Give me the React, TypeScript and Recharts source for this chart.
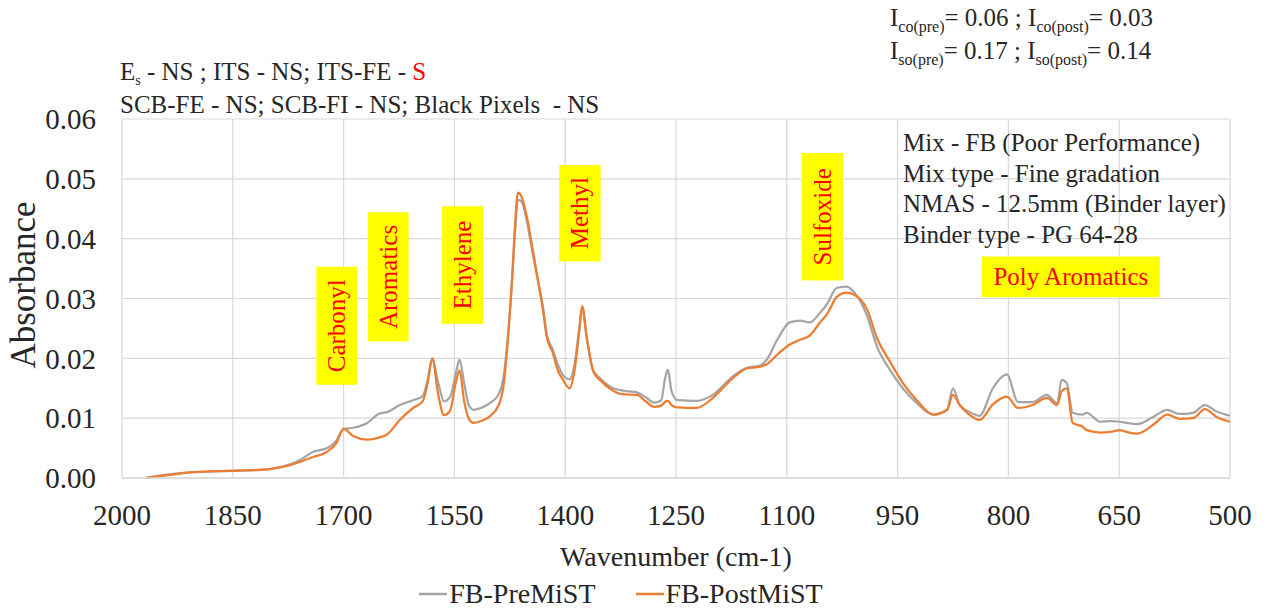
import { LineChart, Line, XAxis, YAxis, CartesianGrid, Legend, ReferenceArea, Label } from "recharts"

const serif = '"Liberation Serif", "Times New Roman", serif'

// wavenumber (cm-1), high to low
const wavenumber = [
  1968, 1950, 1930, 1912, 1880, 1854, 1823, 1800, 1777, 1759, 1741, 1722, 1710, 1700, 1687, 1668,
  1651, 1641, 1624, 1606, 1593, 1586, 1580, 1572, 1564, 1556, 1548, 1543, 1537, 1530, 1524, 1512,
  1502, 1490, 1484, 1478, 1472, 1468, 1464, 1459, 1452, 1444, 1437, 1430, 1425, 1417, 1410, 1403,
  1394, 1388, 1381, 1377, 1371, 1362, 1353, 1335, 1322, 1303, 1290, 1280, 1270, 1265, 1261, 1256,
  1248, 1222, 1200, 1173, 1154, 1136, 1127, 1113, 1096, 1082, 1069, 1055, 1046, 1032, 1019, 1010,
  991, 978, 960, 943, 924, 902, 883, 875, 866, 855, 839, 821, 802, 787, 767, 748,
  734, 728, 721, 713, 700, 694, 676, 662, 649, 640, 626, 604, 585, 568, 550, 534,
  518, 500,
]

const preMiST = [
  0.0, 0.0004, 0.0007, 0.0009, 0.0011, 0.0012, 0.0013, 0.0015, 0.0021, 0.003, 0.0044, 0.005, 0.0062, 0.0082, 0.0084, 0.0092,
  0.0108, 0.011, 0.0122, 0.013, 0.0137, 0.0165, 0.02, 0.016, 0.0128, 0.0135, 0.0175, 0.0198, 0.016, 0.012, 0.0114, 0.0118,
  0.0125, 0.014, 0.0165, 0.023, 0.033, 0.041, 0.0465, 0.0462, 0.043, 0.0375, 0.033, 0.0285, 0.024, 0.0215, 0.019, 0.0172,
  0.0165, 0.0185, 0.025, 0.0287, 0.0236, 0.018, 0.0167, 0.015, 0.0146, 0.0143, 0.0134, 0.0126, 0.013, 0.0165, 0.0181, 0.0145,
  0.013, 0.0129, 0.0139, 0.017, 0.0184, 0.0188, 0.0198, 0.0231, 0.026, 0.0263, 0.026, 0.0276, 0.029, 0.0318, 0.032, 0.0312,
  0.027, 0.022, 0.018, 0.015, 0.0125, 0.0106, 0.0114, 0.015, 0.0122, 0.0112, 0.0104, 0.015, 0.0173, 0.0127, 0.0127, 0.0139,
  0.0125, 0.0164, 0.0159, 0.0109, 0.0106, 0.0109, 0.0094, 0.0095, 0.0094, 0.0092, 0.009, 0.0102, 0.0114, 0.0107, 0.0109, 0.0122,
  0.0111, 0.0104,
]

const postMiST = [
  0.0, 0.0003, 0.0006, 0.0009, 0.0011, 0.0012, 0.0013, 0.0015, 0.002, 0.0027, 0.0035, 0.0044, 0.0058, 0.0082, 0.007, 0.0064,
  0.0068, 0.0073, 0.0097, 0.0117, 0.0128, 0.016, 0.02, 0.014, 0.0105, 0.0112, 0.016, 0.018, 0.013, 0.0098, 0.0092, 0.0096,
  0.0103, 0.0122, 0.015, 0.0225, 0.033, 0.042, 0.0477, 0.047, 0.0437, 0.0382, 0.0332, 0.028, 0.0236, 0.021, 0.018, 0.0164,
  0.015, 0.0175, 0.0245, 0.0287, 0.0236, 0.0178, 0.0164, 0.0146, 0.014, 0.0139, 0.0127, 0.0119, 0.0121, 0.0127, 0.0129, 0.0122,
  0.0118, 0.0117, 0.0134, 0.0167, 0.0183, 0.0186, 0.019, 0.0206, 0.0223, 0.0231, 0.0238, 0.026, 0.0273, 0.0303, 0.031, 0.0307,
  0.0281, 0.0234, 0.0194, 0.0159, 0.013, 0.0106, 0.0114, 0.0139, 0.0122, 0.0108, 0.0097, 0.0123, 0.0136, 0.0117, 0.0122, 0.0134,
  0.0122, 0.0145, 0.015, 0.0092, 0.0086, 0.008, 0.0076, 0.0077, 0.008, 0.0077, 0.0074, 0.0089, 0.0106, 0.0099, 0.01, 0.0115,
  0.0102, 0.0094,
]

const seriesNames = ["FB-PreMiST", "FB-PostMiST"]
const xTicks = [2000, 1850, 1700, 1550, 1400, 1250, 1100, 950, 800, 650, 500]
const yTicks = [0, 0.01, 0.02, 0.03, 0.04, 0.05, 0.06]

// functional group bands marked on the spectrum
const bandNames = ["Carbonyl", "Aromatics", "Ethylene", "Methyl", "Sulfoxide", "Poly Aromatics"]
const bandFrom = [1737, 1667, 1567, 1408, 1080, 836]
const bandTo = [1682, 1612, 1511, 1352, 1024, 595]
const bandLow = [0.0156, 0.0228, 0.0258, 0.0362, 0.033, 0.0302]
const bandHigh = [0.0353, 0.0444, 0.0454, 0.0523, 0.0543, 0.037]

const rows = wavenumber.map((w, i) => ({ w, pre: preMiST[i], post: postMiST[i] }))

const bandLabel = (text: string) => (props: any) => {
  const { x, y, width, height } = props.viewBox
  const cx = x + width / 2
  const cy = y + height / 2
  const vertical = height > width
  return (
    <text
      x={cx}
      y={cy}
      transform={vertical ? `rotate(-90 ${cx} ${cy})` : undefined}
      textAnchor="middle"
      dominantBaseline="central"
      fill="#ff0000"
      fontSize={25}
      fontFamily={serif}
    >
      {text}
    </text>
  )
}

const renderLegend = (props: any) => {
  const items = seriesNames
    .map((n) => props.payload.find((e: any) => e.value === n))
    .filter(Boolean)
  return (
    <div
      style={{
        display: "flex",
        justifyContent: "center",
        alignItems: "center",
        gap: 40,
        height: 40,
        fontFamily: serif,
        fontSize: 28,
        color: "#262626",
      }}
    >
      {items.map((e: any) => (
        <span key={e.value} style={{ display: "flex", alignItems: "center" }}>
          <svg width={28} height={4}>
            <line x1={0} y1={2} x2={28} y2={2} stroke={e.color} strokeWidth={2.5} />
          </svg>
          <span style={{ marginLeft: 2 }}>{e.value}</span>
        </span>
      ))}
    </div>
  )
}

const sub = { fontSize: 16, position: "relative" as const, top: 6 }

export default function App() {
  return (
    <div
      style={{
        position: "absolute",
        left: 0,
        top: 0,
        width: 1272,
        height: 609,
        background: "#fff",
        fontFamily: serif,
      }}
    >
      <LineChart width={1272} height={609} data={rows} margin={{ top: 119, right: 42, bottom: 0, left: 12 }}>
        <CartesianGrid stroke="#d9d9d9" strokeWidth={1.2} />
        <XAxis
          dataKey="w"
          type="number"
          domain={[500, 2000]}
          reversed
          ticks={xTicks}
          interval={0}
          height={91}
          tickLine={false}
          tickSize={0}
          tickMargin={26}
          axisLine={{ stroke: "#d9d9d9", strokeWidth: 1.5 }}
          tick={{ fontSize: 29, fill: "#262626", fontFamily: serif }}
        >
          <Label
            value="Wavenumber (cm-1)"
            position="insideBottom"
            offset={3}
            style={{ fontSize: 28, fill: "#262626", fontFamily: serif }}
          />
        </XAxis>
        <YAxis
          domain={[0, 0.06]}
          ticks={yTicks}
          width={110}
          tickFormatter={(v: number) => v.toFixed(2)}
          axisLine={false}
          tickLine={false}
          tickSize={0}
          tickMargin={26}
          tick={{ fontSize: 29, fill: "#262626", fontFamily: serif }}
        >
          <Label
            content={(p: any) => {
              const cx = p.viewBox.x + 11
              const cy = 285
              return (
                <text
                  x={cx}
                  y={cy}
                  transform={`rotate(-90 ${cx} ${cy})`}
                  textAnchor="middle"
                  dominantBaseline="central"
                  fontSize={35}
                  fill="#262626"
                  fontFamily={serif}
                >
                  Absorbance
                </text>
              )
            }}
          />
        </YAxis>
        {bandNames.map((name, i) => (
          <ReferenceArea
            key={name}
            x1={bandFrom[i]}
            x2={bandTo[i]}
            y1={bandLow[i]}
            y2={bandHigh[i]}
            fill="#ffff00"
            fillOpacity={1}
            stroke="none"
            label={{ content: bandLabel(name) }}
          />
        ))}
        <Legend verticalAlign="bottom" height={40} content={renderLegend} wrapperStyle={{ bottom: -5 }} />
        <Line
          name={seriesNames[0]}
          dataKey="pre"
          type="monotone"
          stroke="#a5a5a5"
          strokeWidth={2.25}
          dot={false}
          isAnimationActive={false}
        />
        <Line
          name={seriesNames[1]}
          dataKey="post"
          type="monotone"
          stroke="#ed7d31"
          strokeWidth={2.25}
          dot={false}
          isAnimationActive={false}
        />
      </LineChart>

      <div style={{ position: "absolute", left: 120, top: 57, fontSize: 25, lineHeight: "29px", color: "#262626", whiteSpace: "nowrap" }}>
        <div>
          E<span style={{ fontSize: 14, position: "relative", top: 5 }}>s</span> - NS ; ITS - NS; ITS-FE -{" "}
          <span style={{ color: "#ff0000" }}>S</span>
        </div>
        <div>SCB-FE - NS; SCB-FI - NS; Black Pixels&nbsp; - NS</div>
      </div>

      <div style={{ position: "absolute", left: 890, top: 3, fontSize: 25, lineHeight: "30px", color: "#262626", whiteSpace: "nowrap" }}>
        <div>
          I<span style={sub}>co(pre)</span>= 0.06 ; I<span style={sub}>co(post)</span>= 0.03
        </div>
        <div>
          I<span style={sub}>so(pre)</span>= 0.17 ; I<span style={sub}>so(post)</span>= 0.14
        </div>
      </div>

      <div style={{ position: "absolute", left: 903, top: 128, fontSize: 25, lineHeight: "30.5px", color: "#262626", whiteSpace: "nowrap" }}>
        <div>Mix - FB (Poor Performance)</div>
        <div>Mix type - Fine gradation</div>
        <div>NMAS - 12.5mm (Binder layer)</div>
        <div>Binder type - PG 64-28</div>
      </div>
    </div>
  )
}
